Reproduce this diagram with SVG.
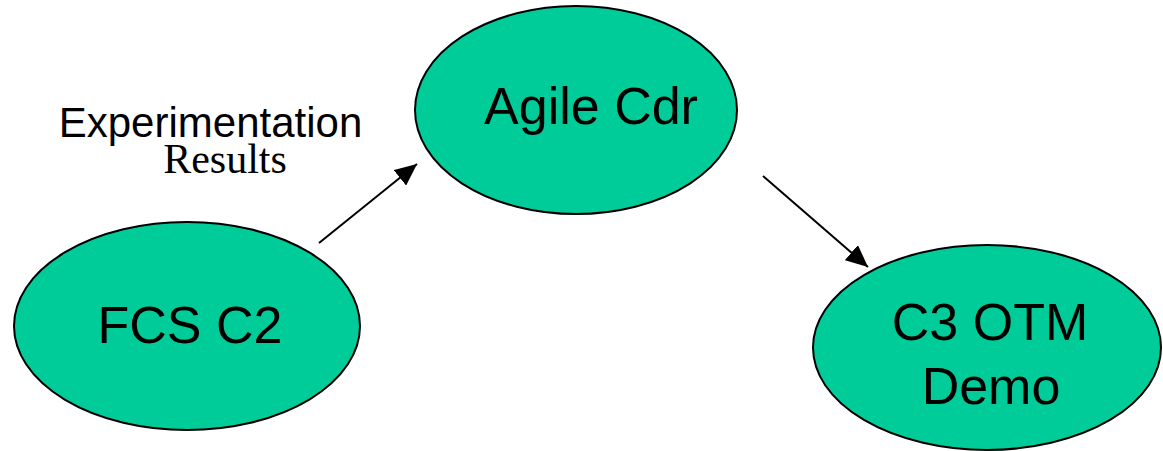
<svg xmlns="http://www.w3.org/2000/svg" width="1163" height="451" viewBox="0 0 1163 451">
<style>
.node{fill:#00CC99;stroke:#000;stroke-width:2}
.lbl{font-family:"Liberation Sans",Arial,sans-serif;font-size:52px;fill:#000;text-anchor:middle}
.edge{stroke:#000;stroke-width:2;fill:none}
</style>
<defs>
<marker id="arr" markerUnits="userSpaceOnUse" markerWidth="24" markerHeight="20" refX="22" refY="10" orient="auto">
<path d="M0,0 L22,10 L0,20 z" fill="#000"/>
</marker>
</defs>
<rect width="1163" height="451" fill="#fff"/>
<g id="connectors">
<line class="edge" x1="319" y1="243" x2="417" y2="164" marker-end="url(#arr)"/>
<line class="edge" x1="763" y1="176" x2="868" y2="267" marker-end="url(#arr)"/>
</g>
<g id="edge-label">
<text x="210.5" y="137" font-family="Liberation Sans, Arial, sans-serif" font-size="42" text-anchor="middle">Experimentation</text>
<text x="225" y="173" font-family="Liberation Serif, Times New Roman, serif" font-size="42" text-anchor="middle">Results</text>
</g>
<g id="node-fcs">
<ellipse class="node" cx="187" cy="326" rx="173" ry="104"/>
<text class="lbl" x="190" y="343">FCS C2</text>
</g>
<g id="node-agile">
<ellipse class="node" cx="576" cy="110" rx="161" ry="104"/>
<text class="lbl" x="591" y="124">Agile Cdr</text>
</g>
<g id="node-c3">
<ellipse class="node" cx="987" cy="347.5" rx="174" ry="102.5"/>
<text class="lbl" x="990" y="340">C3 OTM</text>
<text class="lbl" x="991" y="404">Demo</text>
</g>
</svg>
